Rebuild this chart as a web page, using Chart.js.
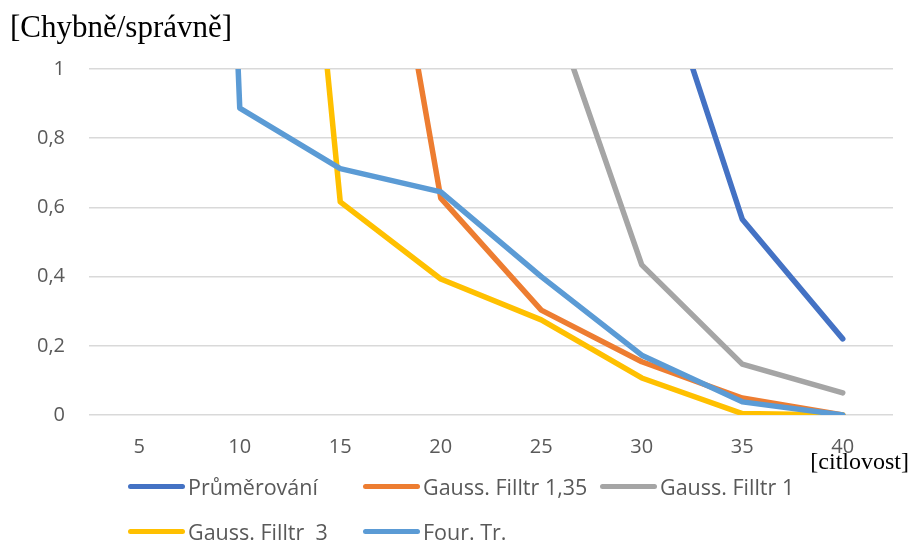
<!DOCTYPE html>
<html>
<head>
<meta charset="utf-8">
<script src="https://cdn.jsdelivr.net/npm/chart.js@4/dist/chart.umd.min.js"></script>
<style>
    body { margin: 0; background: #fff; }
    .wrap { position: relative; width: 909px; height: 541px; overflow: hidden; }
    .titulo-y { position: absolute; left: 10px; top: 9px; font: 31px "Liberation Serif", serif; color: #000; white-space: nowrap; }
    .titulo-x { position: absolute; right: 0px; top: 448px; font: 24px "Liberation Serif", serif; color: #000; white-space: nowrap; }
    .leyenda { position: absolute; left: 128px; top: 472px; display: grid; grid-template-columns: 235px 237px 240px; row-gap: 17px; }
    .item { display: flex; align-items: center; height: 28px; font: 21.5px "Open Sans", sans-serif; color: #595959; white-space: pre; }
    .muestra { width: 57px; height: 5px; border-radius: 3px; margin-right: 3px; flex: none; }
</style>
</head>
<body>
<div class="wrap">
    <canvas id="grafico" width="909" height="541"></canvas>
    <div class="titulo-y">[Chybně/správně]</div>
    <div class="titulo-x">[citlovost]</div>
    <div class="leyenda" id="leyenda"></div>
</div>
<script>
const categorias = ['5', '10', '15', '20', '25', '30', '35', '40'];
const nombres = ['Průměrování', 'Gauss. Filltr 1,35', 'Gauss. Filltr 1', 'Gauss. Filltr  3', 'Four. Tr.'];
const colores = ['#4472C4', '#ED7D31', '#A5A5A5', '#FFC000', '#5B9BD5'];

// valores por encima de 1 quedan recortados (solo se ve la pendiente)
const prumerovani = [9, 6, 4, 2.8, 2, 1.45, 0.566, 0.22];
const gauss135 = [5, 3.5, 2.29, 0.627, 0.303, 0.154, 0.049, 0];
const gauss1 = [5, 3.5, 2.5, 1.8, 1.27, 0.434, 0.147, 0.064];
const gauss3 = [5.5, 3.6, 0.616, 0.393, 0.275, 0.107, 0.004, 0];
const fourTr = [8, 0.887, 0.712, 0.645, 0.40, 0.173, 0.038, 0];

const series = [prumerovani, gauss135, gauss1, gauss3, fourTr];

const ctx = document.getElementById('grafico').getContext('2d');
new Chart(ctx, {
    type: 'line',
    data: {
        labels: categorias,
        datasets: series.map((datos, i) => ({
            label: nombres[i],
            data: datos,
            borderColor: colores[i],
            backgroundColor: colores[i],
            borderWidth: 5.5,
            borderCapStyle: 'round',
            borderJoinStyle: 'round',
            pointRadius: 0,
            tension: 0,
            fill: false,
            order: series.length - i
        }))
    },
    options: {
        responsive: false,
        devicePixelRatio: 1,
        animation: false,
        layout: { padding: { top: 69, right: 16, bottom: 0, left: 0 } },
        plugins: {
            legend: { display: false },
            tooltip: { enabled: false }
        },
        scales: {
            x: {
                offset: true,
                grid: { display: false, drawTicks: false },
                border: { display: false },
                ticks: {
                    color: '#595959',
                    font: { family: 'Open Sans', size: 20 },
                    padding: 20,
                    maxRotation: 0
                },
                afterFit: (escala) => { escala.height = 126; }
            },
            y: {
                min: 0,
                max: 1,
                grid: { color: '#D9D9D9', lineWidth: 1.5, drawTicks: false },
                border: { display: false },
                ticks: {
                    stepSize: 0.2,
                    color: '#595959',
                    font: { family: 'Open Sans', size: 20 },
                    padding: 24,
                    callback: (v) => String(Math.round(v * 10) / 10).replace('.', ',')
                },
                afterFit: (escala) => { escala.width = 89; }
            }
        }
    }
});

// leyenda en HTML, dos filas como en el original
const leyenda = document.getElementById('leyenda');
nombres.forEach((nombre, i) => {
    const item = document.createElement('div');
    item.className = 'item';
    item.innerHTML = `<span class="muestra" style="background:${colores[i]}"></span>${nombre}`;
    leyenda.appendChild(item);
});
</script>
</body>
</html>
